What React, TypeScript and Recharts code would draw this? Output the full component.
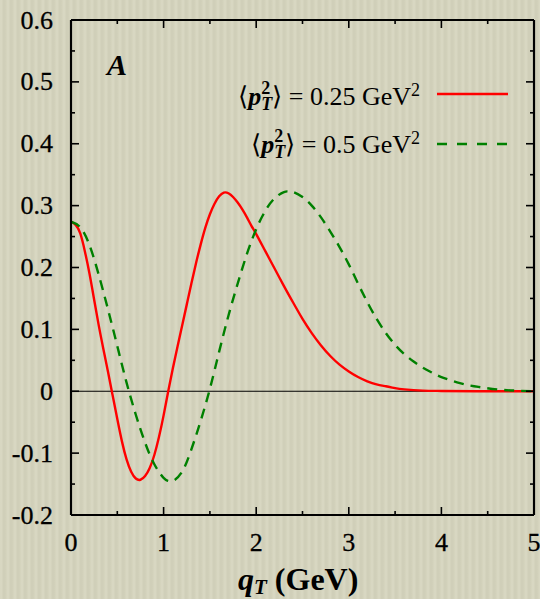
import React from 'react';
import { LineChart, Line, XAxis, YAxis, ReferenceLine } from 'recharts';

// <p_T^2> = 0.25 GeV^2 (red, solid)
const qRed = [0, 0.05, 0.1, 0.15, 0.2, 0.25, 0.3, 0.35, 0.4, 0.45, 0.5, 0.55, 0.6, 0.65, 0.7, 0.75, 0.8, 0.85, 0.9, 0.95, 1.0, 1.05, 1.1, 1.15, 1.2, 1.25, 1.3, 1.35, 1.4, 1.45, 1.5, 1.55, 1.6, 1.65, 1.7, 1.75, 1.8, 1.85, 1.9, 1.95, 2.0, 2.1, 2.2, 2.3, 2.4, 2.5, 2.6, 2.7, 2.8, 2.9, 3.0, 3.1, 3.2, 3.3, 3.4, 3.5, 3.6, 3.8, 4.0, 4.5, 5.0];
const valRed = [0.274, 0.269, 0.255, 0.226, 0.19, 0.148, 0.106, 0.068, 0.031, -0.007, -0.045, -0.081, -0.11, -0.13, -0.141, -0.143, -0.137, -0.124, -0.103, -0.074, -0.039, 0.0, 0.037, 0.072, 0.106, 0.14, 0.174, 0.207, 0.237, 0.264, 0.286, 0.303, 0.315, 0.321, 0.32, 0.314, 0.305, 0.294, 0.281, 0.267, 0.254, 0.226, 0.198, 0.17, 0.143, 0.117, 0.094, 0.074, 0.057, 0.043, 0.032, 0.023, 0.016, 0.011, 0.008, 0.005, 0.003, 0.001, 0.0005, 0, 0];

// <p_T^2> = 0.5 GeV^2 (green, dashed)
const qGreen = [0, 0.1, 0.2, 0.3, 0.4, 0.5, 0.6, 0.7, 0.8, 0.9, 1.0, 1.05, 1.1, 1.2, 1.3, 1.4, 1.5, 1.6, 1.7, 1.8, 1.9, 2.0, 2.1, 2.2, 2.3, 2.35, 2.4, 2.5, 2.6, 2.7, 2.8, 2.9, 3.0, 3.1, 3.2, 3.3, 3.4, 3.5, 3.6, 3.7, 3.8, 3.9, 4.0, 4.2, 4.4, 4.6, 4.8, 5.0];
const valGreen = [0.274, 0.265, 0.236, 0.188, 0.132, 0.073, 0.014, -0.038, -0.083, -0.118, -0.14, -0.145, -0.145, -0.13, -0.094, -0.048, 0.004, 0.064, 0.122, 0.174, 0.222, 0.262, 0.292, 0.312, 0.322, 0.323, 0.322, 0.314, 0.3, 0.281, 0.258, 0.233, 0.205, 0.174, 0.144, 0.117, 0.094, 0.075, 0.06, 0.048, 0.038, 0.03, 0.023, 0.013, 0.007, 0.003, 0.001, 0];

const xTicks = [0, 0.5, 1, 1.5, 2, 2.5, 3, 3.5, 4, 4.5, 5];
const xLabels = ['0', '1', '2', '3', '4', '5'];
const yTicks = [-0.2, -0.15, -0.1, -0.05, 0, 0.05, 0.1, 0.15, 0.2, 0.25, 0.3, 0.35, 0.4, 0.45, 0.5, 0.55, 0.6];
const yLabels = ['-0.2', '-0.1', '0', '0.1', '0.2', '0.3', '0.4', '0.5', '0.6'];

const redData = qRed.map((q, i) => ({ q, v: valRed[i] }));
const greenData = qGreen.map((q, i) => ({ q, v: valGreen[i] }));

const FONT = '"Liberation Serif", "Times New Roman", serif';

const isMajorY = (v: number) => Math.abs(v * 10 - Math.round(v * 10)) < 1e-6;
const isMajorX = (v: number) => Math.abs(v - Math.round(v)) < 1e-6;
const yLabel = (v: number) => yLabels.find((s) => Math.abs(parseFloat(s) - v) < 1e-6);
const xLabel = (v: number) => xLabels.find((s) => Math.abs(parseFloat(s) - v) < 1e-6);

const LeftTick = (props: any) => {
  const { x, y, payload } = props;
  const v = payload.value;
  const major = isMajorY(v);
  const lab = major ? yLabel(v) : undefined;
  return (
    <g>
      <line x1={x} x2={x + (major ? 8 : 4)} y1={y} y2={y} stroke="#000" strokeWidth={1.6} />
      {lab !== undefined && (
        <text x={x - 18} y={y + 8.6} textAnchor="end" fontFamily={FONT} fontSize={26} fill="#000" stroke="#000" strokeWidth={0.3}>
          {lab}
        </text>
      )}
    </g>
  );
};

const RightTick = (props: any) => {
  const { x, y, payload } = props;
  const major = isMajorY(payload.value);
  return <line x1={x} x2={x - (major ? 8 : 4)} y1={y} y2={y} stroke="#000" strokeWidth={1.6} />;
};

const BottomTick = (props: any) => {
  const { x, y, payload } = props;
  const v = payload.value;
  const major = isMajorX(v);
  const lab = major ? xLabel(v) : undefined;
  return (
    <g>
      <line x1={x} x2={x} y1={y} y2={y - (major ? 8 : 4)} stroke="#000" strokeWidth={1.6} />
      {lab !== undefined && (
        <text x={x} y={y + 36} textAnchor="middle" fontFamily={FONT} fontSize={26} fill="#000" stroke="#000" strokeWidth={0.3}>
          {lab}
        </text>
      )}
    </g>
  );
};

const TopTick = (props: any) => {
  const { x, y, payload } = props;
  const major = isMajorX(payload.value);
  return <line x1={x} x2={x} y1={y} y2={y + (major ? 8 : 4)} stroke="#000" strokeWidth={1.6} />;
};

const bg = {
  backgroundColor: '#d5d4bd',
  backgroundImage:
    'repeating-linear-gradient(90deg, rgba(255,255,255,0.07) 0px, rgba(255,255,255,0.07) 2px, rgba(0,0,0,0.025) 3px, rgba(0,0,0,0.025) 5px, rgba(255,255,255,0.04) 7px)',
};

export default function App() {
  return (
    <div style={{ position: 'absolute', left: 0, top: 0, width: 540, height: 599, overflow: 'hidden', ...bg }}>
      <LineChart width={540} height={599} margin={{ top: 0, right: 0, bottom: 0, left: 0 }}>
        <XAxis
          dataKey="q"
          type="number"
          domain={[0, 5]}
          ticks={xTicks}
          interval={0}
          height={84}
          tickSize={0}
          tickMargin={0}
          tickLine={false}
          axisLine={{ stroke: '#000', strokeWidth: 2.2 }}
          tick={<BottomTick />}
          allowDataOverflow
        />
        <XAxis
          xAxisId="top"
          orientation="top"
          dataKey="q"
          type="number"
          domain={[0, 5]}
          ticks={xTicks}
          interval={0}
          height={20}
          tickSize={0}
          tickMargin={0}
          tickLine={false}
          axisLine={{ stroke: '#000', strokeWidth: 2.2 }}
          tick={<TopTick />}
          allowDataOverflow
        />
        <YAxis
          type="number"
          domain={[-0.2, 0.6]}
          ticks={yTicks}
          interval={0}
          width={71}
          tickSize={0}
          tickMargin={0}
          tickLine={false}
          axisLine={{ stroke: '#000', strokeWidth: 2.2 }}
          tick={<LeftTick />}
          allowDataOverflow
        />
        <YAxis
          yAxisId="right"
          orientation="right"
          type="number"
          domain={[-0.2, 0.6]}
          ticks={yTicks}
          interval={0}
          width={6}
          tickSize={0}
          tickMargin={0}
          tickLine={false}
          axisLine={{ stroke: '#000', strokeWidth: 2.2 }}
          tick={<RightTick />}
          allowDataOverflow
        />
        <ReferenceLine y={0} stroke="#000" strokeWidth={1.2} />
        <Line
          data={redData}
          dataKey="v"
          type="natural"
          stroke="#ff0000"
          strokeWidth={2.4}
          dot={false}
          activeDot={false}
          isAnimationActive={false}
        />
        <Line
          data={greenData}
          dataKey="v"
          type="natural"
          stroke="#008000"
          strokeWidth={2.4}
          strokeDasharray="10 7"
          dot={false}
          activeDot={false}
          isAnimationActive={false}
        />
      </LineChart>
      <svg
        width={540}
        height={599}
        style={{ position: 'absolute', left: 0, top: 0, pointerEvents: 'none' }}
      >
        <text x={107} y={75} fontFamily={FONT} fontSize={30} fontStyle="italic" fontWeight="bold" fill="#000">
          A
        </text>
        <text x={420} y={105} textAnchor="end" fontFamily={FONT} fontSize={26} fill="#000">
          ⟨<tspan fontStyle="italic" fontWeight="bold">p</tspan>
          <tspan fontSize={18} fontWeight="bold" dy={-11}>2</tspan>
          <tspan fontSize={18} fontWeight="bold" fontStyle="italic" dx={-9} dy={16}>T</tspan>
          <tspan dy={-5}>⟩ = 0.25 GeV</tspan>
          <tspan fontSize={18} dy={-9}>2</tspan>
        </text>
        <line x1={437} x2={508} y1={94} y2={94} stroke="#ff0000" strokeWidth={2.4} />
        <text x={420} y={153} textAnchor="end" fontFamily={FONT} fontSize={26} fill="#000">
          ⟨<tspan fontStyle="italic" fontWeight="bold">p</tspan>
          <tspan fontSize={18} fontWeight="bold" dy={-11}>2</tspan>
          <tspan fontSize={18} fontWeight="bold" fontStyle="italic" dx={-9} dy={16}>T</tspan>
          <tspan dy={-5}>⟩ = 0.5 GeV</tspan>
          <tspan fontSize={18} dy={-9}>2</tspan>
        </text>
        <line x1={437} x2={508} y1={144} y2={144} stroke="#008000" strokeWidth={2.4} strokeDasharray="10 10" />
        <text x={238} y={590} fontFamily={FONT} fontSize={32} fontWeight="bold" fill="#000">
          <tspan fontStyle="italic">q</tspan>
          <tspan fontSize={21} fontStyle="italic" dy={4}>T</tspan>
          <tspan dy={-4}> (GeV)</tspan>
        </text>
      </svg>
    </div>
  );
}
